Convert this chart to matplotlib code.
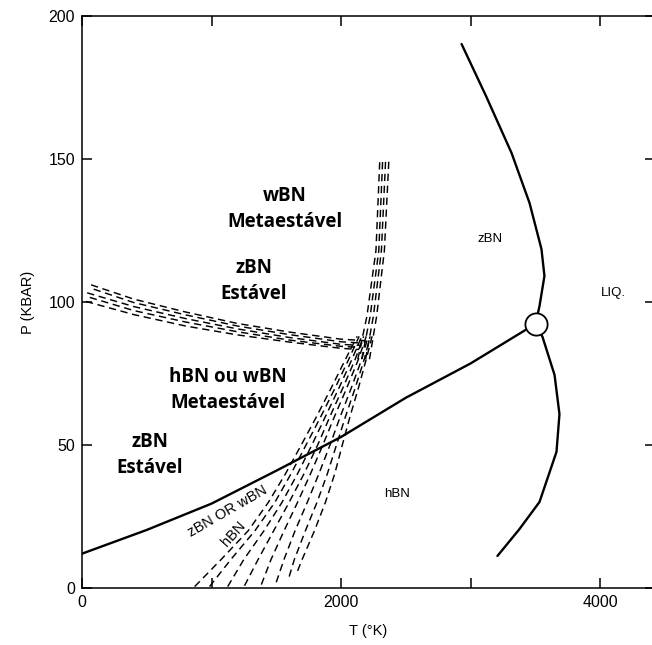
import matplotlib
matplotlib.use("Agg")
import matplotlib.pyplot as plt

# ---------------- data ----------------
# hBN / zBN equilibrium line (solid)
hz_T = [0, 500, 1000, 1500, 2000, 2500, 3000, 3500]
hz_P = [12.0, 20.3, 29.5, 41.0, 52.8, 66.5, 78.5, 92.3]

# melting line, upper branch (zBN / liquid)
mu_T = [2931, 3120, 3317, 3456, 3548, 3571, 3533, 3502]
mu_P = [190.2, 172.0, 152.1, 134.6, 118.5, 109.1, 98.6, 92.3]

# melting line, lower branch (hBN / liquid)
ml_T = [3502, 3556, 3649, 3687, 3664, 3533, 3378, 3208]
ml_P = [92.3, 87.8, 74.5, 60.8, 47.6, 30.1, 20.6, 11.2]

# triple point
tp_T = [3502]
tp_P = [92.3]

# near-horizontal dashed band (zBN / wBN)
band_h_T = [[70, 400, 800, 1200, 1600, 2000, 2180],
            [90, 400, 800, 1200, 1600, 2000, 2170],
            [40, 400, 800, 1200, 1600, 2000, 2160],
            [60, 400, 800, 1200, 1600, 2000, 2150],
            [30, 400, 800, 1200, 1600, 2000, 2140]]
band_h_P = [[106.0, 101.0, 96.5, 92.5, 89.5, 87.0, 86.5],
            [104.5, 99.8, 95.5, 91.6, 88.6, 86.1, 85.6],
            [103.2, 98.4, 94.2, 90.6, 87.6, 85.2, 84.8],
            [101.6, 97.0, 93.0, 89.6, 86.7, 84.5, 84.1],
            [100.2, 95.6, 91.6, 88.5, 86.0, 83.8, 83.4]]

# steep dashed band (upper part, P 80-150)
band_v_P = [80, 95, 118, 150]
band_v_T = [[2130, 2200, 2270, 2300],
            [2160, 2225, 2292, 2322],
            [2190, 2250, 2312, 2345],
            [2220, 2275, 2335, 2370]]

# dashed fan (lower part, reaching the T axis)
fan_P = [10, 20, 30, 40, 50, 60, 70, 80, 88]
fan_start_T = [870, 985, 1125, 1255, 1385, 1500, 1600, 1665]
fan_start_P = [0.5, 0.5, 0.5, 0.8, 1.2, 2.0, 4.0, 6.0]
fan_T = [[1075, 1283, 1440, 1572, 1693, 1812, 1925, 2035, 2125],
         [1150, 1335, 1490, 1615, 1730, 1845, 1955, 2060, 2140],
         [1250, 1405, 1545, 1665, 1775, 1880, 1985, 2085, 2160],
         [1360, 1480, 1600, 1715, 1820, 1915, 2015, 2110, 2175],
         [1460, 1560, 1665, 1765, 1860, 1950, 2045, 2135, 2195],
         [1560, 1645, 1740, 1830, 1915, 1995, 2080, 2160, 2210],
         [1640, 1725, 1815, 1895, 1965, 2035, 2110, 2180, 2225],
         [1700, 1795, 1880, 1952, 2010, 2070, 2135, 2195, 2240]]

x_ticks = [0, 1000, 2000, 3000, 4000]
x_ticklabels = ["0", "", "2000", "", "4000"]
y_ticks = [0, 50, 100, 150, 200]
y_ticklabels = ["0", "50", "100", "150", "200"]

# ---------------- figure ----------------
W, H = 652, 645
fig = plt.figure(figsize=(W / 100, H / 100), dpi=100)
left_px, right_px, top_px, bot_px = 82, 655, 16, 588
ax = fig.add_axes([left_px / W, (H - bot_px) / H,
                   (right_px - left_px) / W, (bot_px - top_px) / H])
ax.set_xlim(0, (right_px - left_px) / 129.5 * 1000)
ax.set_ylim(0, 200)

solid_kw = dict(color="black", lw=1.7, solid_capstyle="round")
dash_kw = dict(color="black", lw=1.05, dashes=(5, 3.2))

ax.plot(hz_T, hz_P, **solid_kw)
ax.plot(mu_T, mu_P, **solid_kw)
ax.plot(ml_T, ml_P, **solid_kw)
ax.plot(tp_T, tp_P, marker="o", ms=16, mfc="white", mec="black",
        mew=1.3, ls="none", zorder=5)

for t, p in zip(band_h_T, band_h_P):
    ax.plot(t, p, **dash_kw)
for t in band_v_T:
    ax.plot(t, band_v_P, **dash_kw)
for t0, p0, t in zip(fan_start_T, fan_start_P, fan_T):
    ax.plot([t0] + t, [p0] + fan_P, **dash_kw)

# ---------------- axes styling ----------------
for s in ax.spines.values():
    s.set_linewidth(1.1)
ax.set_xticks(x_ticks)
ax.set_xticklabels(x_ticklabels)
ax.set_yticks(y_ticks)
ax.set_yticklabels(y_ticklabels)
ax.tick_params(direction="in", length=7, width=1.1, top=True, right=True,
               labelsize=11.5, pad=5)
ax.tick_params(axis="y", which="both", right=True, length=7)
for lab in ax.get_xticklabels() + ax.get_yticklabels():
    lab.set_family("Liberation Sans")

ax.set_xlabel("T (°K)", fontsize=10.5, family="Liberation Sans", labelpad=10)
ax.set_ylabel("P (KBAR)", fontsize=10.5, family="Liberation Sans", labelpad=10)

# ---------------- labels ----------------
bold_kw = dict(family="Open Sans", fontweight="bold", fontsize=13.5,
               ha="center", va="center", linespacing=1.4)
ax.text(1564, 132.5, "wBN\nMetaestável", **bold_kw)
ax.text(1326, 107.5, "zBN\nEstável", **bold_kw)
ax.text(1124, 69.4, "hBN ou wBN\nMetaestável", **bold_kw)
ax.text(521, 46.5, "zBN\nEstável", **bold_kw)

small_kw = dict(family="Liberation Sans", fontsize=9.5, ha="center", va="center")
ax.text(3150, 122, "zBN", **small_kw)
ax.text(4100, 103, "LIQ.", **small_kw)
ax.text(2436, 33, "hBN", **small_kw)
ax.text(1124, 26.9, "zBN OR wBN", rotation=30, family="Liberation Sans",
        fontsize=10.5, ha="center", va="center")
ax.text(1172, 19.0, "hBN", rotation=48, family="Liberation Sans",
        fontsize=10.5, ha="center", va="center")

fig.savefig("out.png", dpi=100)
